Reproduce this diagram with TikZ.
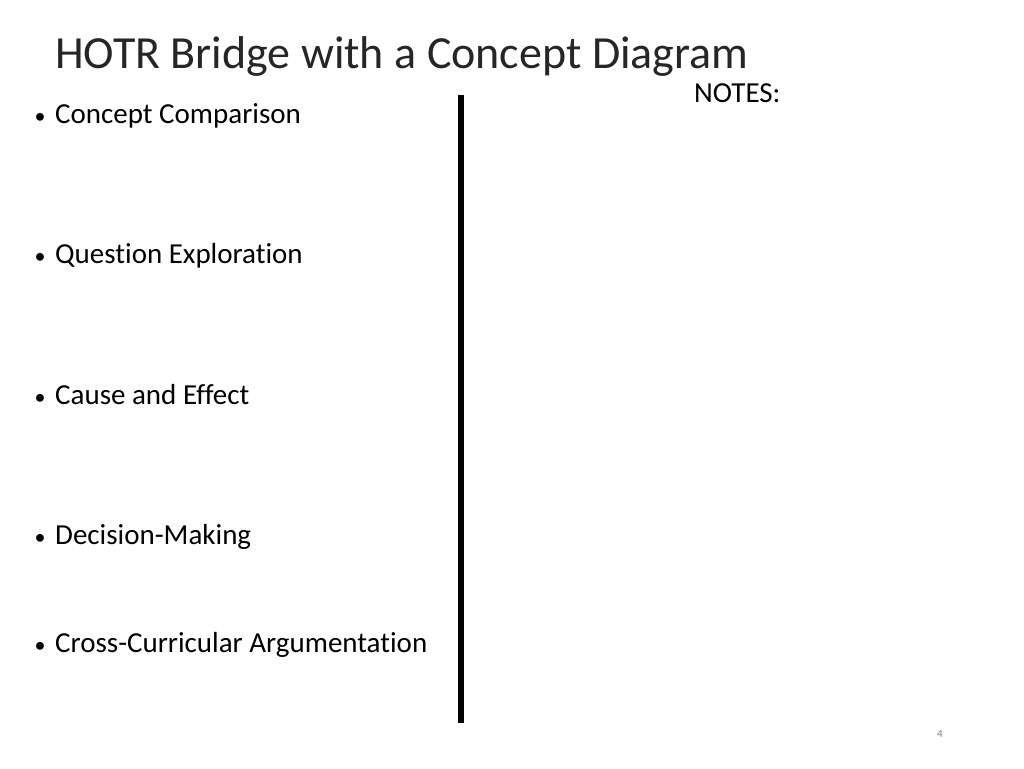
\documentclass[tikz,border=0pt]{standalone}
\usepackage{fontspec}
\setmainfont[RawFeature=-liga]{Carlito}
\begin{document}
\begin{tikzpicture}[x=1pt,y=-1pt,
  bul/.style={anchor=base west,inner sep=0pt,font=\fontsize{29}{33}\selectfont}]
\useasboundingbox (0,0) rectangle (1024,768);
\node[anchor=base west,inner sep=0pt,font=\fontsize{46}{52}\selectfont,text=black!85] (title) at (55,68) {HOTR Bridge with a Concept Diagram};
\foreach \n/\y/\t in {b1/123/Concept Comparison,b2/263/Question Exploration,b3/404/Cause and Effect,b4/544/Decision-Making,b5/652/Cross-Curricular Argumentation}{
  \node[bul] (\n) at (55,\y) {\t};
  \node[anchor=base,inner sep=0pt,font=\fontsize{22}{24}\selectfont] (\n d) at (40,\y) {\textbullet};
}
\node[bul] (notes) at (694,102) {NOTES:};
\coordinate (lt) at (461,95);
\coordinate (lb) at (461,723);
\draw[line width=6pt] (lt) -- (lb);
\node[anchor=base,inner sep=0pt,font=\fontsize{11}{13}\selectfont,text=black!50] (pg) at (940,737) {4};
\end{tikzpicture}
\end{document}
